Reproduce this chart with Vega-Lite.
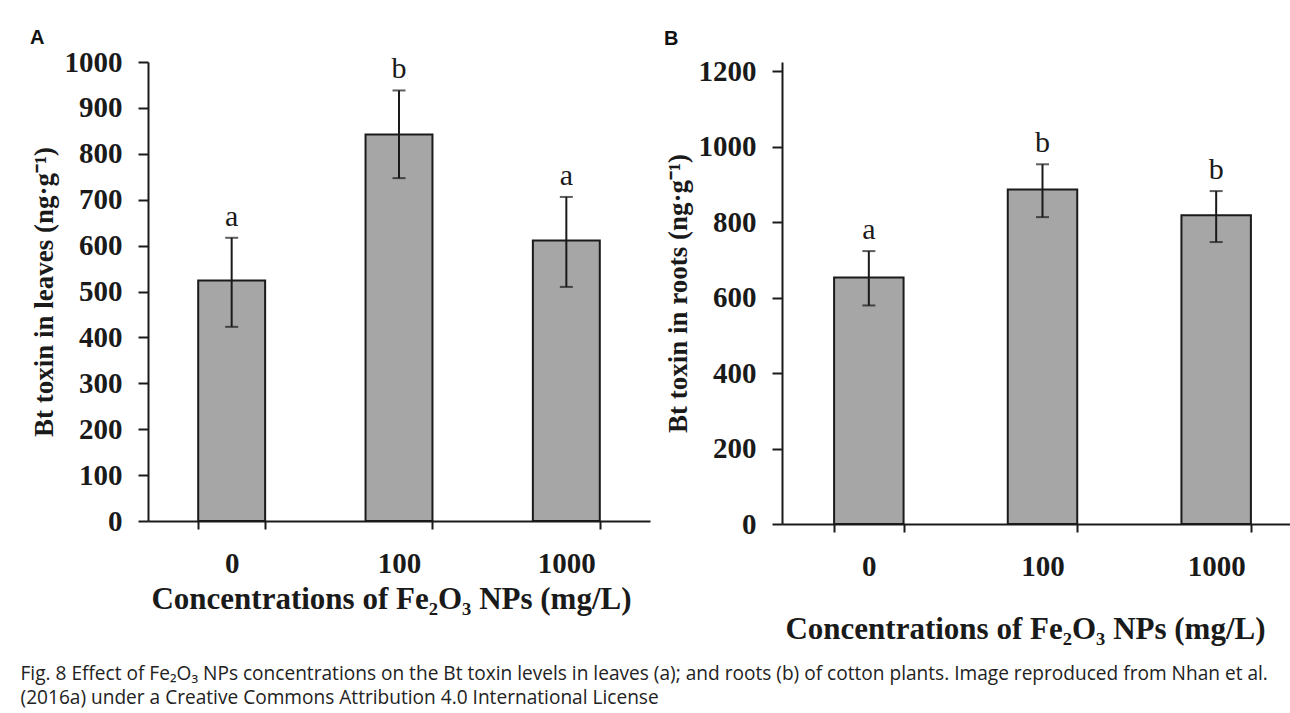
{
  "$schema": "https://vega.github.io/schema/vega-lite/v6.json",
  "background": "white",
  "padding": {"left": 20, "top": 28, "right": 10, "bottom": 4},
  "datasets": {
    "leaves": [
      {"conc": "0", "value": 524, "lo": 423, "hi": 617, "letter": "a"},
      {"conc": "100", "value": 842, "lo": 747, "hi": 938, "letter": "b"},
      {"conc": "1000", "value": 611, "lo": 510, "hi": 706, "letter": "a"}
    ],
    "roots": [
      {"conc": "0", "value": 653, "lo": 579, "hi": 723, "letter": "a"},
      {"conc": "100", "value": 886, "lo": 813, "hi": 953, "letter": "b"},
      {"conc": "1000", "value": 818, "lo": 747, "hi": 882, "letter": "b"}
    ]
  },
  "title": {
    "text": ["Fig. 8 Effect of Fe₂O₃ NPs concentrations on the Bt toxin levels in leaves (a); and roots (b) of cotton plants. Image reproduced from Nhan et al.", "(2016a) under a Creative Commons Attribution 4.0 International License"],
    "orient": "bottom",
    "anchor": "start",
    "frame": "bounds",
    "dx": -9.5,
    "offset": 21,
    "font": "Open Sans",
    "fontSize": 19.1,
    "fontWeight": "normal",
    "color": "#222",
    "lineHeight": 24
  },
  "spacing": 14,
  "hconcat": [
    {
      "width": 502,
      "height": 459,
      "title": {"text": "A", "anchor": "start", "frame": "bounds", "font": "Liberation Sans", "fontWeight": "bold", "fontSize": 20, "offset": 0, "color": "#111"},
      "data": {"name": "leaves"},
      "encoding": {
        "x": {"field": "conc", "type": "nominal", "sort": ["0", "100", "1000"],
              "scale": {"paddingInner": 0.6, "paddingOuter": 0.3},
              "axis": {"title": "Concentrations of Fe₂O₃ NPs (mg/L)", "labelAngle": 0, "tickBand": "extent", "titlePadding": 6, "titleX": 243}}
      },
      "layer": [
        {"mark": {"type": "bar", "fill": "#a6a6a6", "stroke": "#1a1a1a", "strokeWidth": 2},
         "encoding": {"y": {"field": "value", "type": "quantitative", "scale": {"domain": [0, 1000], "nice": false},
              "axis": {"title": "Bt toxin in leaves (ng·g⁻¹)", "format": "d", "values": [0, 100, 200, 300, 400, 500, 600, 700, 800, 900, 1000]}}}},
        {"mark": {"type": "rule", "color": "#1a1a1a", "strokeWidth": 2},
         "encoding": {"y": {"field": "lo", "type": "quantitative"}, "y2": {"field": "hi"}}},
        {"mark": {"type": "tick", "color": "#1a1a1a", "thickness": 2, "size": 13},
         "encoding": {"y": {"field": "lo", "type": "quantitative"}}},
        {"mark": {"type": "tick", "color": "#1a1a1a", "thickness": 2, "size": 13},
         "encoding": {"y": {"field": "hi", "type": "quantitative"}}},
        {"mark": {"type": "text", "font": "Liberation Serif", "fontSize": 30, "color": "#1a1a1a", "baseline": "alphabetic", "dy": -12},
         "encoding": {"y": {"field": "hi", "type": "quantitative"}, "text": {"field": "letter"}}}
      ]
    },
    {
      "width": 521,
      "height": 462,
      "title": {"text": "B", "anchor": "start", "frame": "bounds", "font": "Liberation Sans", "fontWeight": "bold", "fontSize": 20, "offset": 8, "color": "#111"},
      "data": {"name": "roots"},
      "encoding": {
        "x": {"field": "conc", "type": "nominal", "sort": ["0", "100", "1000"],
              "scale": {"paddingInner": 0.6, "paddingOuter": 0.3},
              "axis": {"title": "Concentrations of Fe₂O₃ NPs (mg/L)", "labelAngle": 0, "tickBand": "extent", "titlePadding": 33, "titleX": 243}}
      },
      "layer": [
        {"mark": {"type": "bar", "fill": "#a6a6a6", "stroke": "#1a1a1a", "strokeWidth": 2},
         "encoding": {"y": {"field": "value", "type": "quantitative", "scale": {"domain": [0, 1224], "nice": false},
              "axis": {"title": "Bt toxin in roots (ng·g⁻¹)", "format": "d", "values": [0, 200, 400, 600, 800, 1000, 1200]}}}},
        {"mark": {"type": "rule", "color": "#1a1a1a", "strokeWidth": 2},
         "encoding": {"y": {"field": "lo", "type": "quantitative"}, "y2": {"field": "hi"}}},
        {"mark": {"type": "tick", "color": "#1a1a1a", "thickness": 2, "size": 13},
         "encoding": {"y": {"field": "lo", "type": "quantitative"}}},
        {"mark": {"type": "tick", "color": "#1a1a1a", "thickness": 2, "size": 13},
         "encoding": {"y": {"field": "hi", "type": "quantitative"}}},
        {"mark": {"type": "text", "font": "Liberation Serif", "fontSize": 30, "color": "#1a1a1a", "baseline": "alphabetic", "dy": -12},
         "encoding": {"y": {"field": "hi", "type": "quantitative"}, "text": {"field": "letter"}}}
      ]
    }
  ],
  "config": {
    "view": {"stroke": null},
    "axis": {
      "grid": false,
      "domainColor": "#1a1a1a", "domainWidth": 2,
      "tickColor": "#1a1a1a", "tickWidth": 2, "tickSize": 10,
      "labelFont": "Liberation Serif", "labelFontWeight": "bold", "labelFontSize": 29, "labelColor": "#1a1a1a",
      "titleFont": "Liberation Serif", "titleFontWeight": "bold", "titleColor": "#1a1a1a"
    },
    "axisY": {"labelPadding": 16, "titleFontSize": 27, "titlePadding": 6},
    "axisX": {"labelPadding": 20, "titleFontSize": 31, "tickSize": 8}
  }
}
